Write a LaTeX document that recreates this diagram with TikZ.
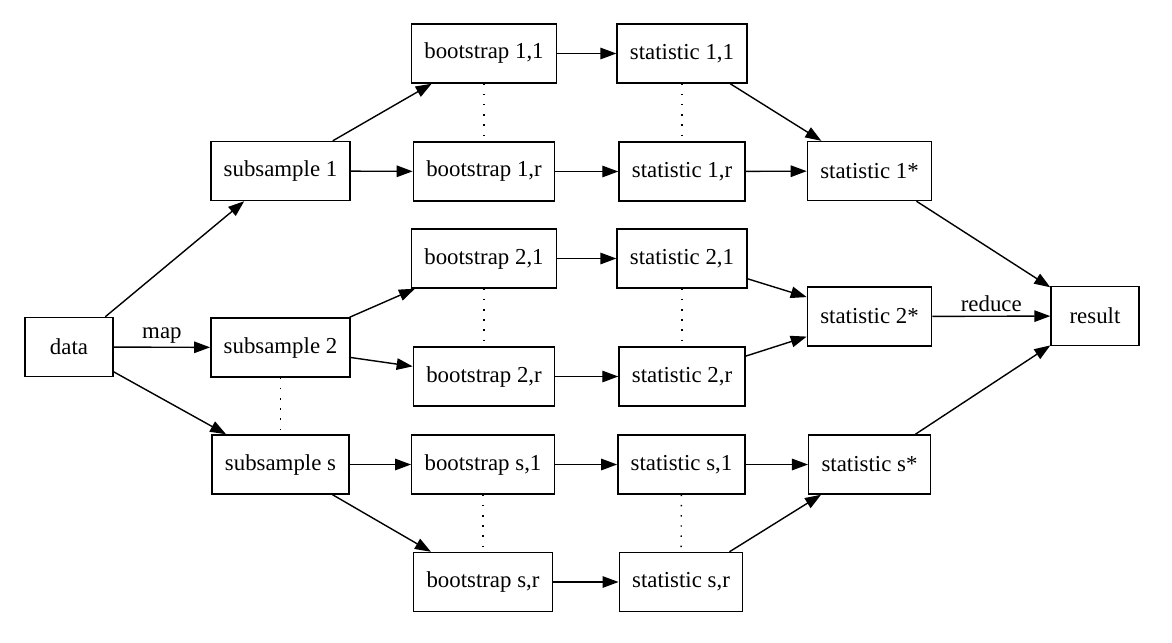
\documentclass[tikz,border=0pt]{standalone}
\usepackage{fontspec}
\setmainfont{Liberation Serif}
\usetikzlibrary{arrows.meta}

\begin{document}
\begin{tikzpicture}[>={Triangle[length=0.32cm,width=0.23cm]}, line width=0.8pt,
		rectbox/.style={rectangle, draw, minimum width=1.76cm, minimum height=1.18cm, inner xsep=0.258cm, font=\fontsize{13}{15}\selectfont},
		edgelabel/.style={midway, above, inner sep=2pt, font=\fontsize{13}{15}\selectfont},
		dotline/.style={dash pattern=on 0.8pt off 5pt}]
		\useasboundingbox (0,0) rectangle (23.44,-12.84);
		
		\node (rectdata) [rectbox] at (1.38,-6.94) {data};
		
		\node (rectsub1) [rectbox] at (5.61,-3.42) {subsample 1};
		\node (rectsub2) [rectbox] at (5.61,-6.95) {subsample 2};
		\node (rectsubs) [rectbox] at (5.61,-9.29) {subsample s};
		
		\node (rectboot11) [rectbox] at (9.68,-1.07) {bootstrap 1,1};
		\node (rectboot1r) [rectbox] at (9.68,-3.43) {bootstrap 1,r};
		\node (rectboot21) [rectbox] at (9.68,-5.17) {bootstrap 2,1};
		\node (rectboot2r) [rectbox] at (9.68,-7.53) {bootstrap 2,r};
		\node (rectboots1) [rectbox] at (9.66,-9.29) {bootstrap s,1};
		\node (rectbootsr) [rectbox] at (9.66,-11.64) {bootstrap s,r};
		
		\node (rectstat11) [rectbox] at (13.64,-1.07) {statistic 1,1};
		\node (rectstat1r) [rectbox] at (13.64,-3.43) {statistic 1,r};
		\node (rectstat21) [rectbox] at (13.64,-5.17) {statistic 2,1};
		\node (rectstat2r) [rectbox] at (13.64,-7.53) {statistic 2,r};
		\node (rectstats1) [rectbox] at (13.63,-9.29) {statistic s,1};
		\node (rectstatsr) [rectbox] at (13.62,-11.64) {statistic s,r};
		
		\node (rectstar1) [rectbox] at (17.39,-3.42) {statistic 1*};
		\node (rectstar2) [rectbox] at (17.39,-6.33) {statistic 2*};
		\node (rectstars) [rectbox] at (17.39,-9.29) {statistic s*};
		
		\node (rectresult) [rectbox] at (21.9,-6.32) {result};
		
		\draw [->] (rectdata) to (rectsub1);
		\draw [->] (rectdata) to node [edgelabel] {map} (rectsub2);
		\draw [->] (rectdata) to (rectsubs);
		
		\draw [->] (rectsub1) to (rectboot11);
		\draw [->] (rectsub1) to (rectboot1r);
		\draw [->] (rectsub2) to (rectboot21);
		\draw [->] (rectsub2) to (rectboot2r);
		\draw [->] (rectsubs) to (rectboots1);
		\draw [->] (rectsubs) to (rectbootsr);
		
		\draw [->] (rectboot11) to (rectstat11);
		\draw [->] (rectboot1r) to (rectstat1r);
		\draw [->] (rectboot21) to (rectstat21);
		\draw [->] (rectboot2r) to (rectstat2r);
		\draw [->] (rectboots1) to (rectstats1);
		\draw [->] (rectbootsr) to (rectstatsr);
		
		\draw [->] (rectstat11) to (rectstar1);
		\draw [->] (rectstat1r) to (rectstar1);
		\draw [->] (rectstat21) to (rectstar2);
		\draw [->] (rectstat2r) to (rectstar2);
		\draw [->] (rectstats1) to (rectstars);
		\draw [->] (rectstatsr) to (rectstars);
		
		\draw [->] (rectstar1) to (rectresult);
		\draw [->] (rectstar2) to node [edgelabel] {reduce} (rectresult);
		\draw [->] (rectstars) to (rectresult);
		
		\draw [dotline] (rectsub2) to (rectsubs);
		\draw [dotline] (rectboot11) to (rectboot1r);
		\draw [dotline] (rectstat11) to (rectstat1r);
		\draw [dotline] (rectboot21) to (rectboot2r);
		\draw [dotline] (rectstat21) to (rectstat2r);
		\draw [dotline] (rectboots1) to (rectbootsr);
		\draw [dotline] (rectstats1) to (rectstatsr);
		
		\end{tikzpicture}
\end{document}
